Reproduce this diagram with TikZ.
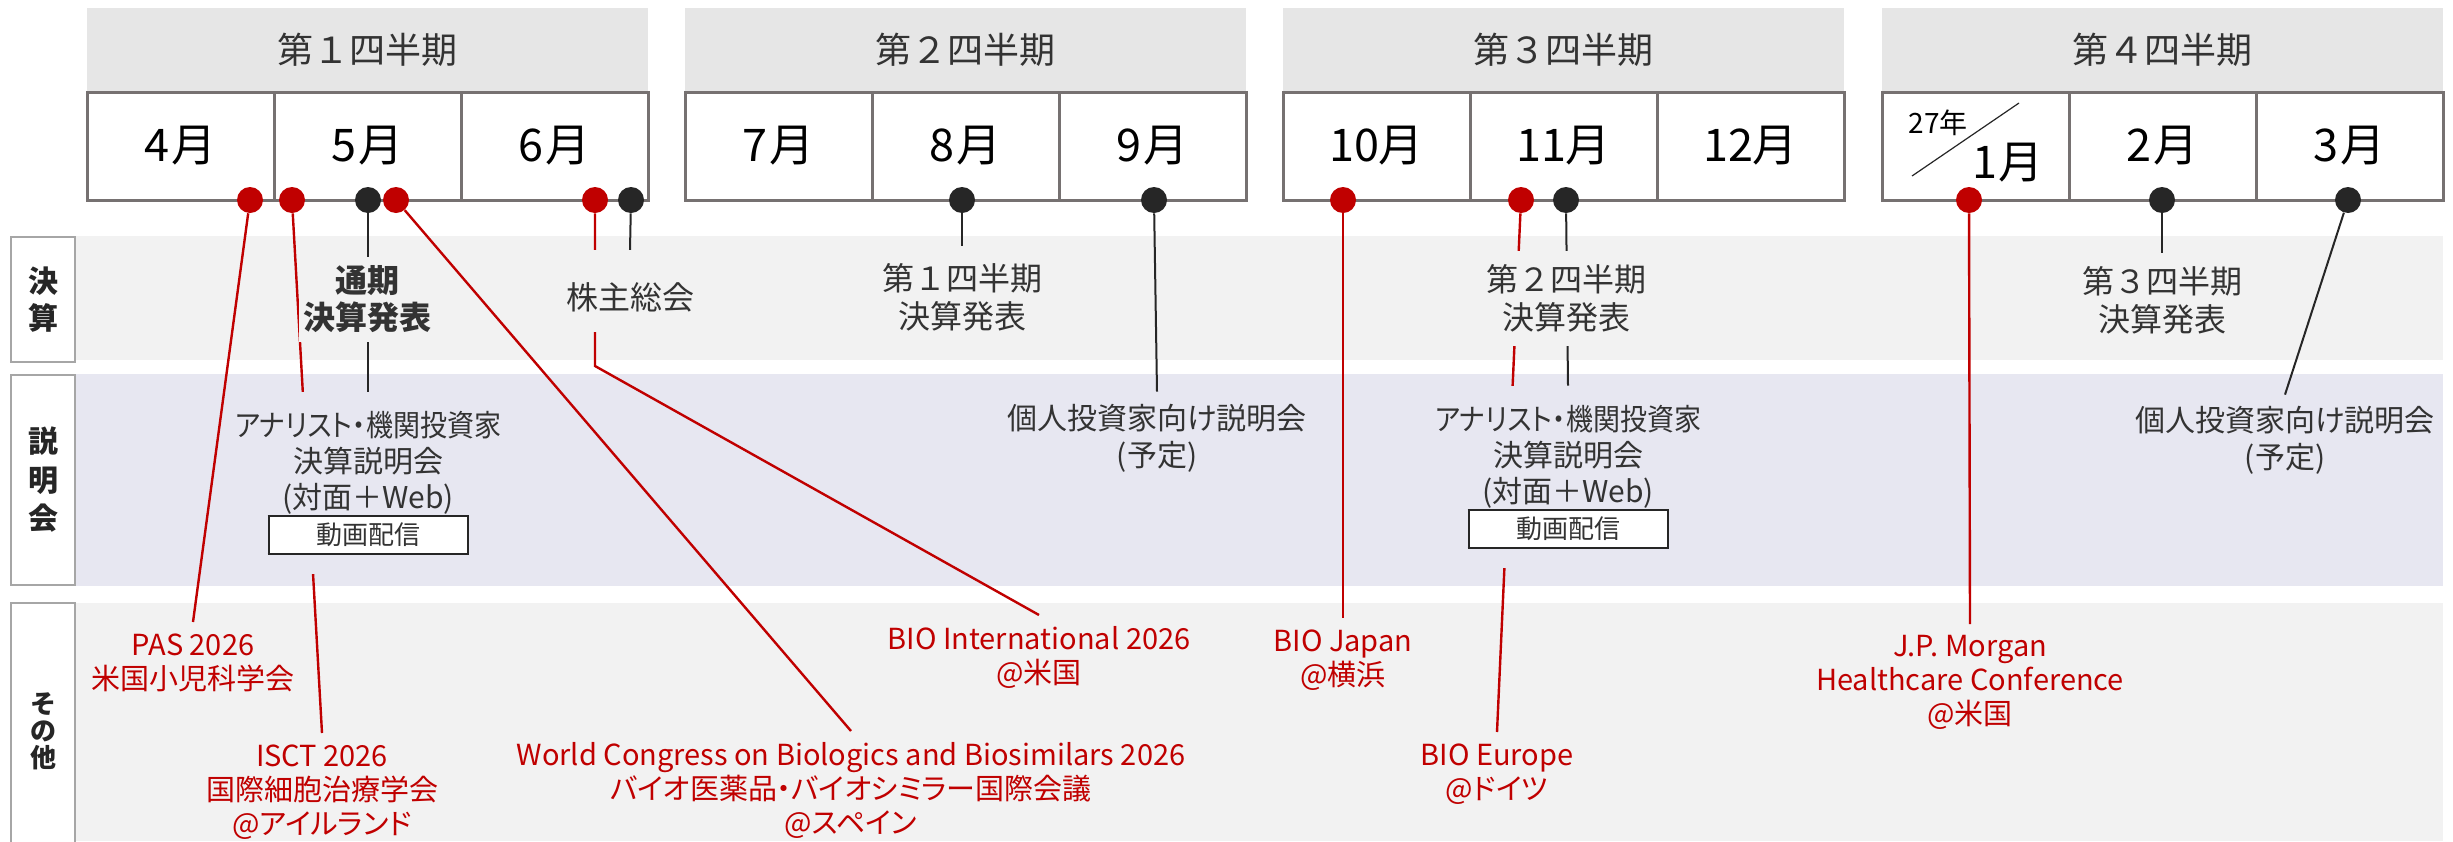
\documentclass[tikz,border=0pt]{standalone}
\usepackage{fontspec}
\usepackage{graphicx}
\setmainfont{Noto Sans CJK JP}[RawFeature={+palt}]
\newfontfamily\jpfull{Noto Sans CJK JP}
\usetikzlibrary{calc}
\pgfdeclarelayer{back}
\pgfdeclarelayer{mid}
\pgfsetlayers{back,mid,main}
\definecolor{hdr}{HTML}{E6E6E6}
\definecolor{gridc}{HTML}{767171}
\definecolor{bandA}{HTML}{F2F2F2}
\definecolor{bandB}{HTML}{E7E7F1}
\definecolor{lblc}{HTML}{A6A6A6}
\definecolor{evred}{HTML}{C00000}
\definecolor{ink}{HTML}{262626}
\definecolor{txt}{HTML}{333333}
\setlength{\fboxsep}{3pt}
\setlength{\fboxrule}{1pt}
\begin{document}
\begin{tikzpicture}[x=0.5pt,y=-0.5pt,
  qhead/.style={fill=hdr, minimum width=280.5pt, minimum height=42pt, inner sep=0pt, text=txt, font=\jpfull\fontsize{18pt}{20pt}\selectfont},
  mcell/.style={draw=gridc, line width=1.5pt, fill=white, minimum width=93.5pt, minimum height=54pt, inner sep=0pt, font=\fontsize{22.5pt}{24pt}\selectfont},
  rdot/.style={circle, fill=evred, minimum size=13pt, inner sep=0pt},
  kdot/.style={circle, fill=ink, minimum size=13pt, inner sep=0pt},
  lblbox/.style={draw=lblc, line width=1pt, fill=white, minimum width=32pt, inner sep=0pt, align=center, text=ink, font=\fontsize{15pt}{18.5pt}\selectfont\bfseries},
  restxt/.style={text=txt, align=center, font=\jpfull\fontsize{16pt}{19pt}\selectfont, inner xsep=2pt, inner ysep=0pt},
  indtxt/.style={text=txt, align=center, font=\fontsize{15pt}{18.5pt}\selectfont, inner xsep=2pt, inner ysep=0pt},
  anatxt/.style={text=txt, align=center, font=\fontsize{15pt}{18pt}\selectfont, inner xsep=2pt, inner ysep=0pt, fill=bandB, minimum height=91pt},
  redtxt/.style={text=evred, align=center, font=\fontsize{14.5pt}{17pt}\selectfont, anchor=north, inner xsep=0pt, inner ysep=5.5pt},
  kline/.style={draw=ink, line width=1pt},
  rline/.style={draw=evred, line width=1.2pt}]
\useasboundingbox (0,0) rectangle (2453,841);

% bands
\begin{pgfonlayer}{back}
\fill[bandA] (75,236) rectangle (2443,360);
\fill[bandB] (75,374) rectangle (2443,586);
\fill[bandA] (75,603) rectangle (2443,841);
\end{pgfonlayer}

% row labels
\node[lblbox, minimum height=62.5pt] (L1) at (43,299.5) {決\\算};
\node[lblbox, minimum height=105pt, font=\fontsize{15pt}{19.25pt}\selectfont\bfseries] (L2) at (43,480) {説\\明\\会};
\node[lblbox, minimum height=128.5pt, font=\fontsize{13pt}{13.5pt}\selectfont\bfseries] (L3) at (43,731.5) {そ\\の\\他};

% quarter headers
\node[qhead] (q1) at (367.5,50) {第１四半期};
\node[qhead] (q2) at (965.5,50) {第２四半期};
\node[qhead] (q3) at (1563.5,50) {第３四半期};
\node[qhead] (q4) at (2162.5,50) {第４四半期};

% month cells
\node[mcell] (m4) at (180.5,146) {4\kern1pt 月};
\node[mcell] (m5) at (367.5,146) {5\kern1pt 月};
\node[mcell] (m6) at (554.5,146) {6\kern1pt 月};
\node[mcell] (m7) at (778.5,146) {7\kern1pt 月};
\node[mcell] (m8) at (965.5,146) {8\kern1pt 月};
\node[mcell] (m9) at (1152.5,146) {9\kern1pt 月};
\node[mcell] (m10) at (1376.5,146) {10月};
\node[mcell] (m11) at (1563.5,146) {11月};
\node[mcell] (m12) at (1750.5,146) {12月};
\node[mcell] (m1) at (1975.5,146) {};
\node[mcell] (m2) at (2162.5,146) {2\kern1pt 月};
\node[mcell] (m3) at (2349.5,146) {3\kern1pt 月};
\node[inner sep=0pt, font=\fontsize{14pt}{15pt}\selectfont] (y27) at (1938,123) {27年};
\node[inner sep=0pt, font=\fontsize{22.5pt}{24pt}\selectfont] (m1t) at (2008,163) {1\kern1pt 月};
\draw[ink, line width=0.6pt] (1912,176) -- (2019,103);

% black result / meeting texts
\node[restxt, fill=bandA, minimum height=42.5pt, font=\fontsize{16pt}{18.5pt}\selectfont\bfseries] (tsuki) at (367,299.5) {通期\\決算発表};
\node[restxt, fill=bandA, text height=29.5pt, text depth=11.5pt] (kabu) at (630,291) {株主総会};
\node[restxt, minimum height=51.5pt] (q1res) at (962,297.5) {第１四半期\\決算発表};
\node[restxt, fill=bandA, minimum height=47.5pt] (q2res) at (1566,298) {第２四半期\\決算発表};
\node[restxt, minimum height=47.5pt] (q3res) at (2162,300.5) {第３四半期\\決算発表};
\node[indtxt, minimum height=46.5pt] (ind9) at (1157,438.5) {個人投資家向け説明会\\(予定)};
\node[indtxt, minimum height=45pt] (ind3) at (2285,440) {個人投資家向け説明会\\(予定)};
\node[anatxt] (ana1) at (368,483) {\scalebox{0.9}[1]{アナリスト・機関投資家}\\決算説明会\\(対面＋Web)\\\fcolorbox{ink}{white}{\makebox[92.5pt]{\fontsize{13pt}{13pt}\selectfont 動画配信}}};
\node[anatxt] (ana2) at (1568,477) {\scalebox{0.9}[1]{アナリスト・機関投資家}\\決算説明会\\(対面＋Web)\\\fcolorbox{ink}{white}{\makebox[92.5pt]{\fontsize{13pt}{13pt}\selectfont 動画配信}}};

% red event texts
\node[redtxt] (pas) at (193,622) {PAS 2026\\米国小児科学会};
\node[redtxt] (isct) at (322,733) {ISCT 2026\\国際細胞治療学会\\@アイルランド};
\node[redtxt] (wcb) at (851,731) {World Congress on Biologics and Biosimilars 2026\\バイオ医薬品・バイオシミラー国際会議\\@スペイン};
\node[redtxt] (bioi) at (1039,615) {BIO International 2026\\@米国};
\node[redtxt] (bioj) at (1343,618) {BIO Japan\\@横浜};
\node[redtxt] (bioe) at (1497,732) {BIO Europe\\@ドイツ};
\node[redtxt] (jpm) at (1970,624) {J.P. Morgan\\Healthcare Conference\\@米国};
\coordinate (bend6) at (595,366);

% dots
\node[rdot] (r4) at (250,200) {};
\node[rdot] (r5a) at (292,200) {};
\node[kdot] (k5) at (368,200) {};
\node[rdot] (r5b) at (396,200) {};
\node[rdot] (r6) at (595,200) {};
\node[kdot] (k6) at (631,200) {};
\node[kdot] (k8) at (962,200) {};
\node[kdot] (k9) at (1154,200) {};
\node[rdot] (r10) at (1343,200) {};
\node[rdot] (r11) at (1521,200) {};
\node[kdot] (k11) at (1566,200) {};
\node[rdot] (r1) at (1969,200) {};
\node[kdot] (k2) at (2162,200) {};
\node[kdot] (k3) at (2348,200) {};

% connectors
\begin{pgfonlayer}{mid}
\draw[kline] (k5) -- (ana1.north);
\draw[rline] (r4) -- (pas.north);
\draw[rline] (r5a) -- (isct.north);
\draw[rline] (r5b) -- (wcb.north);
\draw[rline] (r6) -- (bend6) -- (bioi.north);
\draw[kline, shorten >=-10pt] (k6) -- (kabu.north);
\draw[kline] (k8) -- (q1res.north);
\draw[kline] (k9) -- (ind9.north);
\draw[rline] (r10) -- (bioj.north);
\draw[rline] (r11) -- (bioe.north);
\draw[kline] (k11) -- (ana2.north);
\draw[rline] (r1) -- (jpm.north);
\draw[kline] (k2) -- (q3res.north);
\draw[kline] (k3) -- (ind3.north);
\end{pgfonlayer}
\end{tikzpicture}
\end{document}
